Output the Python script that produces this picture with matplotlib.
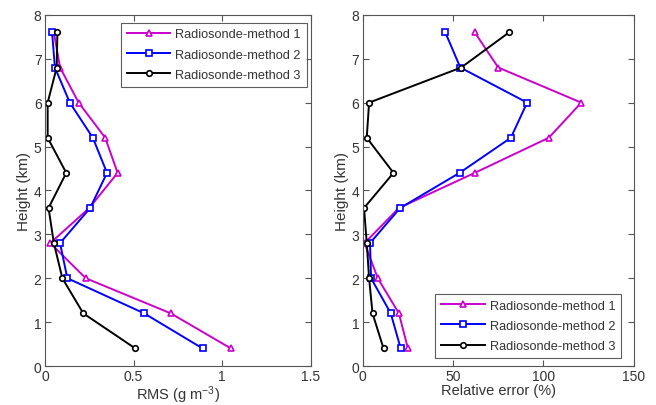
import matplotlib
matplotlib.use("Agg")
import matplotlib.pyplot as plt

plt.rcParams['font.family'] = ['Liberation Sans', 'DejaVu Sans']
plt.rcParams['mathtext.fontset'] = 'custom'
plt.rcParams['mathtext.rm'] = 'Liberation Sans'
plt.rcParams['mathtext.it'] = 'Liberation Sans'

heights = [0.4, 1.2, 2.0, 2.8, 3.6, 4.4, 5.2, 6.0, 6.8, 7.6]
labels = ["Radiosonde-method 1", "Radiosonde-method 2", "Radiosonde-method 3"]

# RMS (g m^-3)
rms_m1 = [1.05, 0.71, 0.23, 0.03, 0.25, 0.41, 0.34, 0.19, 0.085, 0.05]
rms_m2 = [0.89, 0.56, 0.126, 0.085, 0.255, 0.35, 0.27, 0.14, 0.056, 0.04]
rms_m3 = [0.51, 0.216, 0.098, 0.05, 0.02, 0.12, 0.015, 0.015, 0.066, 0.07]

# relative error (%)
rel_m1 = [25, 20, 8.3, 1, 20, 62, 103, 121, 75, 62]
rel_m2 = [21, 15.5, 4.6, 4, 20.7, 53.6, 82, 91, 54, 45.7]
rel_m3 = [11.5, 5.4, 3.5, 2.2, 0.7, 17, 2.2, 3.5, 54.5, 81]

colors = ['#cc00cc', '#0000ff', '#000000']
markers = ['^', 's', 'o']
msizes = [4.5, 5, 4]
text_col = '#333333'

fig = plt.figure(figsize=(6.56, 4.06), dpi=100)
ax1 = fig.add_axes([0.0686, 0.096, 0.405, 0.865])
ax2 = fig.add_axes([0.553, 0.096, 0.413, 0.865])


def style(ax):
    ax.set_ylim(0, 8)
    ax.set_yticks(range(0, 9))
    ax.tick_params(direction='in', top=True, right=True, length=4, pad=2.5,
                   labelsize=10, colors='#555555', labelcolor=text_col)
    for s in ax.spines.values():
        s.set_color('#555555')
        s.set_linewidth(0.8)
    ax.set_ylabel("Height (km)", fontsize=11, color=text_col, labelpad=2)


def legend(ax, loc, anchor):
    leg = ax.legend(loc=loc, fontsize=9.2, handlelength=3.4, handletextpad=0.4,
                    fancybox=False, edgecolor='#333333', borderpad=0.45,
                    labelspacing=0.65, bbox_to_anchor=anchor, borderaxespad=0)
    leg.get_frame().set_linewidth(0.8)
    for t in leg.get_texts():
        t.set_color(text_col)


for vals, c, m, ms, lab in zip([rms_m1, rms_m2, rms_m3], colors, markers, msizes, labels):
    ax1.plot(vals, heights, color=c, marker=m, markersize=ms, markerfacecolor='white',
             markeredgecolor=c, markeredgewidth=1.2, linewidth=1.4, label=lab)
ax1.set_xlim(0, 1.5)
ax1.set_xticks([0, 0.5, 1, 1.5])
ax1.set_xticklabels(['0', '0.5', '1', '1.5'])
style(ax1)
ax1.set_xlabel(r"RMS (g m$^{-3}$)", fontsize=10.5, color=text_col, labelpad=0)
legend(ax1, 'upper right', (0.985, 0.978))

for vals, c, m, ms, lab in zip([rel_m1, rel_m2, rel_m3], colors, markers, msizes, labels):
    ax2.plot(vals, heights, color=c, marker=m, markersize=ms, markerfacecolor='white',
             markeredgecolor=c, markeredgewidth=1.2, linewidth=1.4, label=lab)
ax2.set_xlim(0, 150)
ax2.set_xticks([0, 50, 100, 150])
style(ax2)
ax2.set_xlabel("Relative error (%)", fontsize=10.5, color=text_col, labelpad=0)
legend(ax2, 'lower right', (0.953, 0.023))

fig.savefig("out.png", dpi=100)
